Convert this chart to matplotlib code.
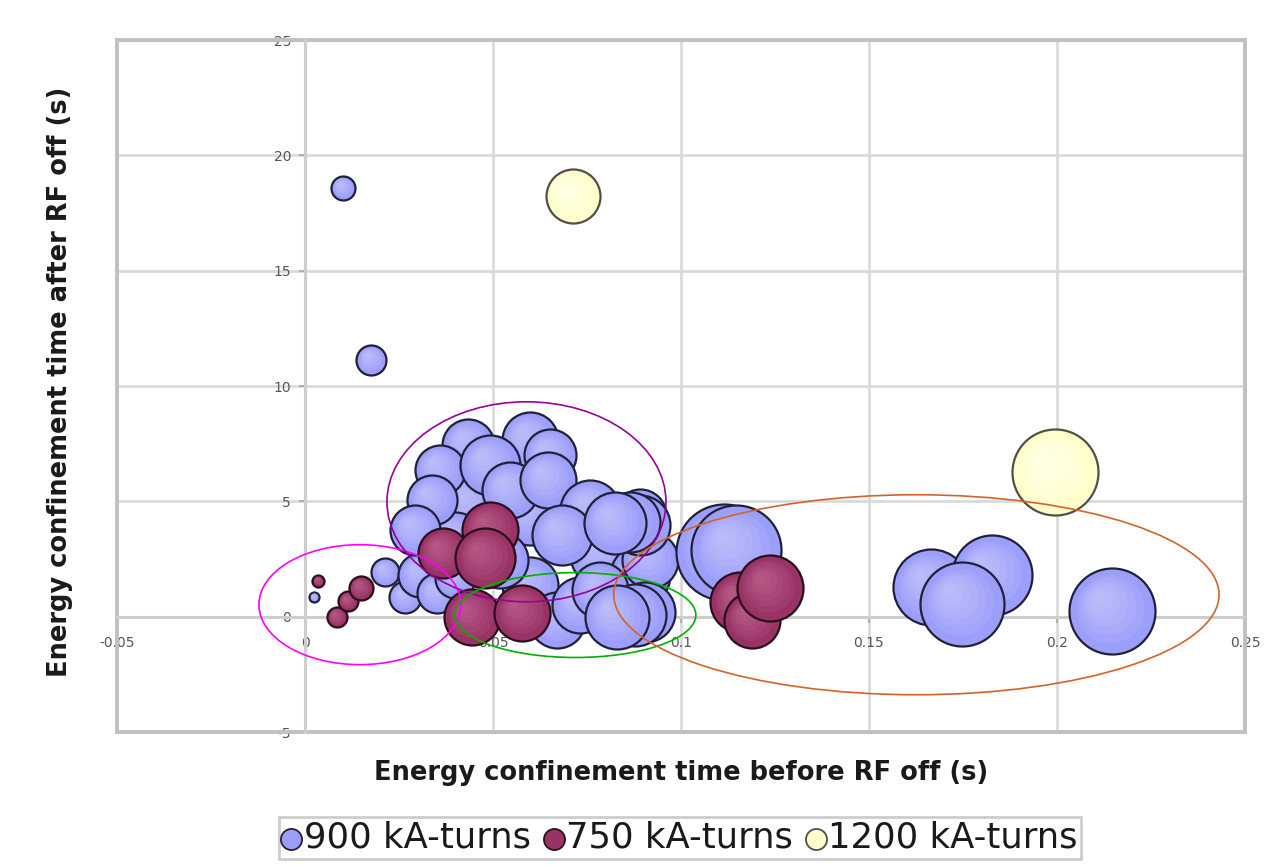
import matplotlib
matplotlib.use("Agg")
import matplotlib.pyplot as plt
from matplotlib.patches import Ellipse, Rectangle
import numpy as np

# ---------------- data ----------------
# 900 kA-turns series (x: tau_E before RF off [s], y: tau_E after RF off [s], bubble size)
x_900 = [0.0101, 0.0176, 0.0024, 0.0213, 0.0266,
         0.0439, 0.0598, 0.0399, 0.0785, 0.0891, 0.0598, 0.0306, 0.0891,
         0.0351, 0.0399,
         0.0434, 0.0598, 0.0652, 0.0359, 0.0338, 0.0293, 0.0492, 0.0545, 0.0646,
         0.0519, 0.0918, 0.0758, 0.0891, 0.0864, 0.0684, 0.0824,
         0.0670, 0.0731, 0.0785, 0.0904, 0.0878, 0.0830,
         0.1114, 0.1146, 0.1665, 0.1827, 0.1747, 0.2146]
y_900 = [18.60, 11.14, 0.87, 1.95, 0.87,
         4.85, 4.42, 3.34, 2.69, 1.82, 1.39, 1.82, 4.42,
         1.04, 1.69,
         7.46, 7.67, 7.02, 6.37, 5.07, 3.77, 6.59, 5.50, 5.94,
         2.47, 2.47, 4.64, 3.99, 4.12, 3.55, 4.07,
         -0.13, 0.52, 1.17, 0.22, 0.09, 0.00,
         2.82, 2.90, 1.30, 1.82, 0.56, 0.26]
s_900 = [12, 15, 5, 14, 16,
         30, 30, 28, 30, 30, 28, 22, 26,
         20, 20,
         26, 28, 26, 25, 25, 25, 30, 28, 28,
         28, 28, 30, 30, 30, 30, 31,
         28, 28, 28, 30, 31, 32,
         48, 45, 38, 40, 42, 43]

# 750 kA-turns series
x_750 = [0.0035, 0.0085, 0.0114, 0.0149, 0.0492, 0.0367, 0.0479,
         0.0444, 0.0577, 0.1157, 0.1189, 0.1237]
y_750 = [1.56, 0.00, 0.69, 1.26, 3.77, 2.77, 2.56,
         0.00, 0.17, 0.65, -0.13, 1.26]
s_750 = [6, 10, 10, 12, 28, 25, 30, 28, 28, 30, 28, 33]

# 1200 kA-turns series
x_1200 = [0.0713, 0.1995]
y_1200 = [18.25, 6.29]
s_1200 = [27, 43]

series_labels = ["900 kA-turns", "750 kA-turns", "1200 kA-turns"]
x_ticks = [-0.05, 0, 0.05, 0.1, 0.15, 0.2, 0.25]
x_ticklabels = ["-0.05", "0", "0.05", "0.1", "0.15", "0.2", "0.25"]
y_ticks = [-5, 0, 5, 10, 15, 20, 25]
y_ticklabels = ["-5", "0", "5", "10", "15", "20", "25"]

# highlighted groups (ellipses): centre x, centre y, width, height
ell_cx = [0.0146, 0.0589, 0.0719, 0.1626]
ell_cy = [0.52, 4.98, 0.07, 0.95]
ell_w = [0.0537, 0.0742, 0.0641, 0.1610]
ell_h = [5.2, 8.67, 3.68, 8.67]
ell_colors = ["#ff00ff", "#990099", "#00b000", "#d2642a"]

# ---------------- figure ----------------
DPI = 100
fig = plt.figure(figsize=(12.8, 8.65), dpi=DPI)
ax = fig.add_axes([117 / 1280, 1 - 732 / 865, (1245 - 117) / 1280, (732 - 40) / 865])
ax.set_xlim(-0.05, 0.25)
ax.set_ylim(-5, 25)

PT_PER_PX = 72.0 / DPI


def bubble_area(r):
    return (2 * np.asarray(r, dtype=float) * PT_PER_PX) ** 2


def draw_series(xs, ys, rs, face, edge, light, label, z):
    xs = np.asarray(xs); ys = np.asarray(ys); rs = np.asarray(rs, dtype=float)
    for i in range(len(xs)):
        zz = z + i * 0.01
        ax.scatter([xs[i]], [ys[i]], s=bubble_area([rs[i]]), c=face,
                   edgecolors=edge, linewidths=1.6, zorder=zz)
        # soft highlight towards upper left
        n = 6
        for k in range(1, n + 1):
            f = 1 - k / (n + 1)
            off = (1 - f) * 0.35 * rs[i]
            p = ax.transData.transform((xs[i], ys[i]))
            q = ax.transData.inverted().transform((p[0] - off, p[1] + off))
            ax.scatter([q[0]], [q[1]], s=bubble_area([rs[i] * f * 0.92]),
                       c=light, alpha=0.12, linewidths=0, zorder=zz + 0.001 * k)
    return ax.scatter([], [], s=230, c=face, edgecolors=edge, linewidths=1.3, label=label)


h1 = draw_series(x_900, y_900, s_900, "#9c9ffa", "#20203a", "#d8d8ff", series_labels[0], 3)
h2 = draw_series(x_750, y_750, s_750, "#993366", "#2a0f1c", "#d07aa0", series_labels[1], 5)
h3 = draw_series(x_1200, y_1200, s_1200, "#ffffcc", "#505048", "#ffffff", series_labels[2], 7)

for cx, cy, w, h, col in zip(ell_cx, ell_cy, ell_w, ell_h, ell_colors):
    ax.add_patch(Ellipse((cx, cy), w, h, fill=False, edgecolor=col, lw=1.2, zorder=10))

# axes styling
grid_col = "#dadada"
ax.set_xticks(x_ticks)
ax.set_xticklabels(x_ticklabels)
ax.set_yticks(y_ticks)
ax.set_yticklabels(y_ticklabels)
ax.grid(True, color=grid_col, lw=2.0, zorder=0)
ax.set_axisbelow(True)
for side in ("top", "right"):
    ax.spines[side].set_visible(False)
ax.spines["left"].set_position(("data", 0))
ax.spines["bottom"].set_position(("data", 0))
for side in ("left", "bottom"):
    ax.spines[side].set_color("#cdcdcd")
    ax.spines[side].set_linewidth(2.2)
    ax.spines[side].set_zorder(1)
ax.add_patch(Rectangle((0, 0), 1, 1, transform=ax.transAxes, fill=False,
                       edgecolor="#c0c0c0", lw=2.8, clip_on=False, zorder=1))
ax.tick_params(axis="y", direction="out", length=4, width=1.5, color="#b0b0b0",
               labelsize=10, labelcolor="#555555", pad=6)
ax.tick_params(axis="x", direction="out", length=4, width=1.5, color="#b0b0b0",
               labelsize=10, labelcolor="#555555", pad=10)

fig.text(681 / 1280, 1 - 773 / 865, "Energy confinement time before RF off (s)",
         ha="center", va="center", fontsize=18.5, fontweight="bold", color="#1a1a1a")
fig.text(60 / 1280, 1 - 382 / 865, "Energy confinement time after RF off (s)",
         ha="center", va="center", rotation=90, fontsize=18.5, fontweight="bold", color="#1a1a1a")

leg = fig.legend(handles=[h1, h2, h3], loc="center", bbox_to_anchor=(680 / 1280, 1 - 838 / 865),
                 ncol=3, fontsize=25.5, frameon=True, fancybox=False, edgecolor="#c0c0c0",
                 handlelength=0.5, handletextpad=0.1, columnspacing=0.4, borderpad=0.1,
                 borderaxespad=0)
leg.get_frame().set_linewidth(2.0)
for t in leg.get_texts():
    t.set_color("#1a1a1a")

fig.savefig("out.png", dpi=DPI)
